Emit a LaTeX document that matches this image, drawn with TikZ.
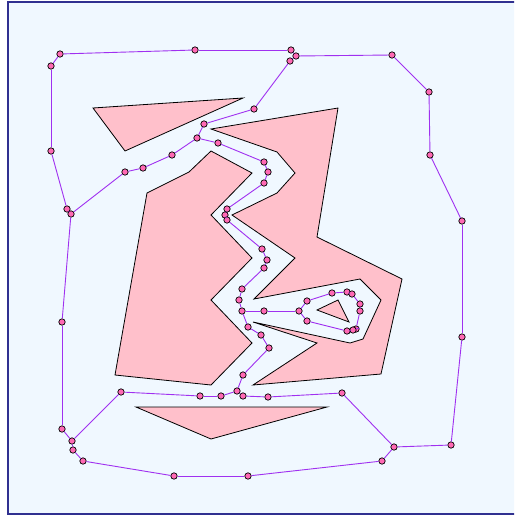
\documentclass[tikz,border=0pt]{standalone}
\usepackage{tikz}

\definecolor{bgblue}{HTML}{F0F8FF}
\definecolor{framecol}{HTML}{303090}
\definecolor{obstacle}{HTML}{FFC0CB}
\definecolor{routecol}{HTML}{A030F0}
\definecolor{waypt}{HTML}{FF69B4}

\tikzset{
  obst/.style={fill=obstacle, draw=black, line width=0.8pt, line join=miter},
  route/.style={draw=routecol, line width=0.9pt},
  wp/.style={circle, fill=waypt, draw=black, line width=0.7pt, minimum size=6.4pt, inner sep=0pt}
}

\begin{document}
\begin{tikzpicture}[x=1pt, y=-1pt]
  \useasboundingbox (0,0) rectangle (514,516);
  % Workspace with its frame (cut off on the right)
  \begin{scope}
    \clip (0,0) rectangle (514,516);
    \fill[bgblue] (8,2) rectangle (524,514);
    \draw[framecol, line width=2pt] (8,2) rectangle (524,514);
  \end{scope}
  % Obstacles
  \draw[obst] (93,108) -- (243,98) -- (125,151) -- cycle;
  \draw[obst] (136,407) -- (327,407) -- (211,439) -- cycle;
  \draw[obst] (211,151) -- (252,173) -- (211,215) -- (252,258) -- (211,300)
    -- (252,343) -- (211,385) -- (115,375) -- (147,193) -- (189,172) -- cycle;
  \draw[obst] (211,129) -- (338,108) -- (317,237) -- (402,279) -- (381,374)
    -- (253,385) -- (317,343) -- (253,322) -- (350,343) -- (363,339)
    -- (381,300) -- (360,279) -- (254,299) -- (295,258) -- (232,215)
    -- (277,193) -- (295,173) -- (277,152) -- cycle;
  \draw[obst] (317,310) -- (338,300) -- (349,322) -- cycle;
  % Waypoints: outer ring
  \foreach \n/\x/\y in {o1/60/54, o2/195/50, o3/291/50, o4/296/56, o5/290/61,
      o6/392/55, o7/429/92, o8/430/155, o9/462/221, o10/462/337, o11/451/445,
      o12/394/447, o13/382/461, o14/248/476, o15/174/476, o16/83/461,
      o17/73/450, o18/72/441, o19/62/429, o20/62/322, o21/71/214, o22/67/209,
      o23/51/151, o24/51/66}
    \node[wp] (\n) at (\x,\y) {};
  % Waypoints: upper corridor
  \foreach \n/\x/\y in {c1/125/172, c2/143/168, c3/172/155, c4/197/138,
      c5/204/124, c6/254/109, c7/218/143, c8/264/162, c9/268/172, c10/264/183,
      c11/227/209, c12/225/215, c13/227/220, c14/262/249, c15/267/260,
      c16/264/268, c17/242/289, c18/239/300, c19/242/311}
    \node[wp] (\n) at (\x,\y) {};
  % Waypoints: loop round the small triangle
  \foreach \n/\x/\y in {l1/264/311, l2/299/311, l3/307/301, l4/332/293,
      l5/347/292, l6/352/294, l7/360/304, l8/360/311, l9/356/329, l10/353/330,
      l11/347/331, l12/307/321}
    \node[wp] (\n) at (\x,\y) {};
  % Waypoints: lower corridor
  \foreach \n/\x/\y in {b1/248/327, b2/261/335, b3/269/348, b4/243/375,
      b5/237/391, b6/221/396, b7/200/396, b8/121/392, b9/243/396, b10/268/397,
      b11/342/393}
    \node[wp] (\n) at (\x,\y) {};
  % Route segments
  \foreach \a/\b in {o1/o2, o2/o3, o3/o4, o4/o5, o4/o6, o6/o7, o7/o8, o8/o9,
      o9/o10, o10/o11, o11/o12, o12/o13, o13/o14, o14/o15, o15/o16, o16/o17,
      o17/o18, o18/o19, o19/o20, o20/o21, o21/o22, o22/o23, o23/o24, o24/o1,
      o21/c1, c1/c2, c2/c3, c3/c4, c4/c5, c5/c6, c6/o5, c4/c7, c7/c8, c8/c9,
      c9/c10, c10/c11, c11/c12, c12/c13, c13/c14, c14/c15, c15/c16, c16/c17,
      c17/c18, c18/c19,
      c19/l1, l1/l2, l2/l3, l3/l4, l4/l5, l5/l6, l6/l7, l7/l8, l8/l9, l9/l10,
      l10/l11, l11/l12, l12/l2,
      c19/b1, b1/b2, b2/b3, b3/b4, b4/b5, b5/b6, b6/b7, b7/b8, b8/o18,
      b5/b9, b9/b10, b10/b11, b11/o12}
    \draw[route] (\a) -- (\b);
\end{tikzpicture}
\end{document}
